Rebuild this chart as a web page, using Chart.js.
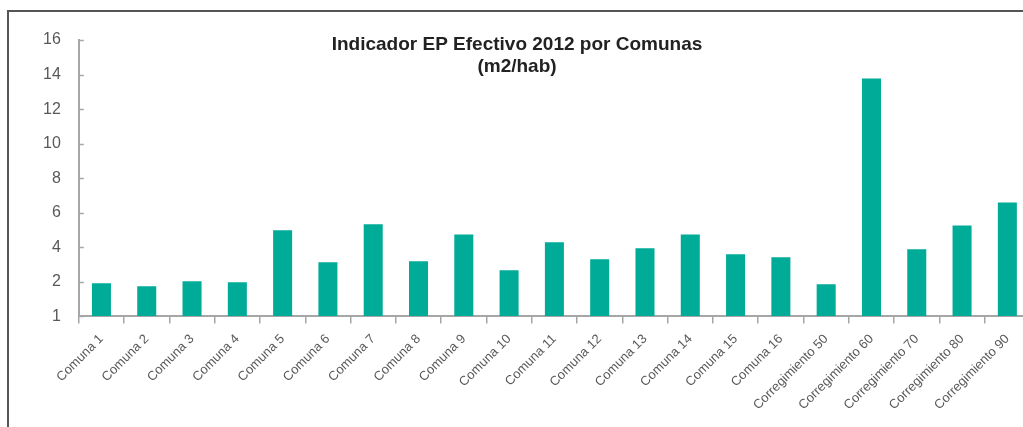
<!DOCTYPE html>
<html>
<head>
<meta charset="utf-8">
<script src="https://cdn.jsdelivr.net/npm/chart.js@4/dist/chart.umd.min.js"></script>
<style>
    body { margin: 0; background: #fff; }
    #wrap { position: relative; width: 1023px; height: 427px; overflow: hidden; }
    #frame { position: absolute; left: 7px; top: 10px; width: 1100px; height: 500px;
             border-left: 2px solid #555; border-top: 2px solid #555; }
    #chart { position: absolute; left: 0; top: 0; }
</style>
</head>
<body>
<div id="wrap">
    <div id="frame"></div>
    <canvas id="chart" width="1040" height="427"></canvas>
</div>
<script>
var categories = ["Comuna 1", "Comuna 2", "Comuna 3", "Comuna 4", "Comuna 5", "Comuna 6", "Comuna 7",
    "Comuna 8", "Comuna 9", "Comuna 10", "Comuna 11", "Comuna 12", "Comuna 13", "Comuna 14",
    "Comuna 15", "Comuna 16", "Corregimiento 50", "Corregimiento 60", "Corregimiento 70",
    "Corregimiento 80", "Corregimiento 90"];
var values = [1.92, 1.75, 2.04, 1.98, 4.99, 3.14, 5.33, 3.19, 4.75, 2.67, 4.29, 3.31, 3.95, 4.75,
    3.60, 3.43, 1.87, 13.77, 3.89, 5.27, 6.60];
var yTickLabels = ["1", "2", "4", "6", "8", "10", "12", "14", "16"];
var titleLines = ["Indicador EP Efectivo 2012 por Comunas", "(m2/hab)"];

var axisColor = "#a6a6a6";
var textColor = "#595959";

// y ticks are drawn inside the plot, to the right of the axis
var innerTicks = {
    id: "innerTicks",
    afterDatasetsDraw: function(chart) {
        var ctx = chart.ctx, y = chart.scales.y, left = chart.chartArea.left;
        ctx.save();
        ctx.strokeStyle = axisColor;
        ctx.lineWidth = 1.5;
        y.ticks.forEach(function(t) {
            var py = Math.round(y.getPixelForValue(t.value)) + 0.5;
            ctx.beginPath();
            ctx.moveTo(left, py);
            ctx.lineTo(left + 5, py);
            ctx.stroke();
        });
        ctx.restore();
    }
};

var overlayTitle = {
    id: "overlayTitle",
    afterDraw: function(chart) {
        var ctx = chart.ctx;
        ctx.save();
        ctx.fillStyle = "#222";
        ctx.font = "bold 19px 'Liberation Sans', Arial, sans-serif";
        ctx.textAlign = "center";
        ctx.textBaseline = "middle";
        ctx.fillText(titleLines[0], 517, 45);
        ctx.fillText(titleLines[1], 517, 67);
        ctx.restore();
    }
};

Chart.defaults.font.family = "'Liberation Sans', Arial, sans-serif";
Chart.defaults.color = textColor;

new Chart(document.getElementById("chart").getContext("2d"), {
    type: "bar",
    data: {
        labels: categories,
        datasets: [{
            data: values,
            backgroundColor: "#00ab98",
            barPercentage: 0.42,
            categoryPercentage: 1.0
        }]
    },
    options: {
        responsive: false,
        animation: false,
        layout: { padding: { left: 25, right: 10, top: 40, bottom: 6 } },
        plugins: {
            legend: { display: false },
            tooltip: { enabled: false }
        },
        scales: {
            x: {
                grid: { display: true, drawOnChartArea: false, offset: true, tickLength: 7, color: axisColor, lineWidth: 1.5 },
                border: { display: true, color: axisColor, width: 2 },
                ticks: { font: { size: 13 }, color: textColor, maxRotation: 45, minRotation: 45, padding: 8, autoSkip: false }
            },
            y: {
                min: 0,
                max: 16,
                grid: { display: true, drawOnChartArea: false, drawTicks: false },
                border: { display: true, color: axisColor, width: 2 },
                ticks: {
                    stepSize: 2,
                    padding: 18,
                    font: { size: 16 },
                    color: textColor,
                    callback: function(value, index) { return yTickLabels[index]; }
                }
            }
        }
    },
    plugins: [innerTicks, overlayTitle]
});
</script>
</body>
</html>
